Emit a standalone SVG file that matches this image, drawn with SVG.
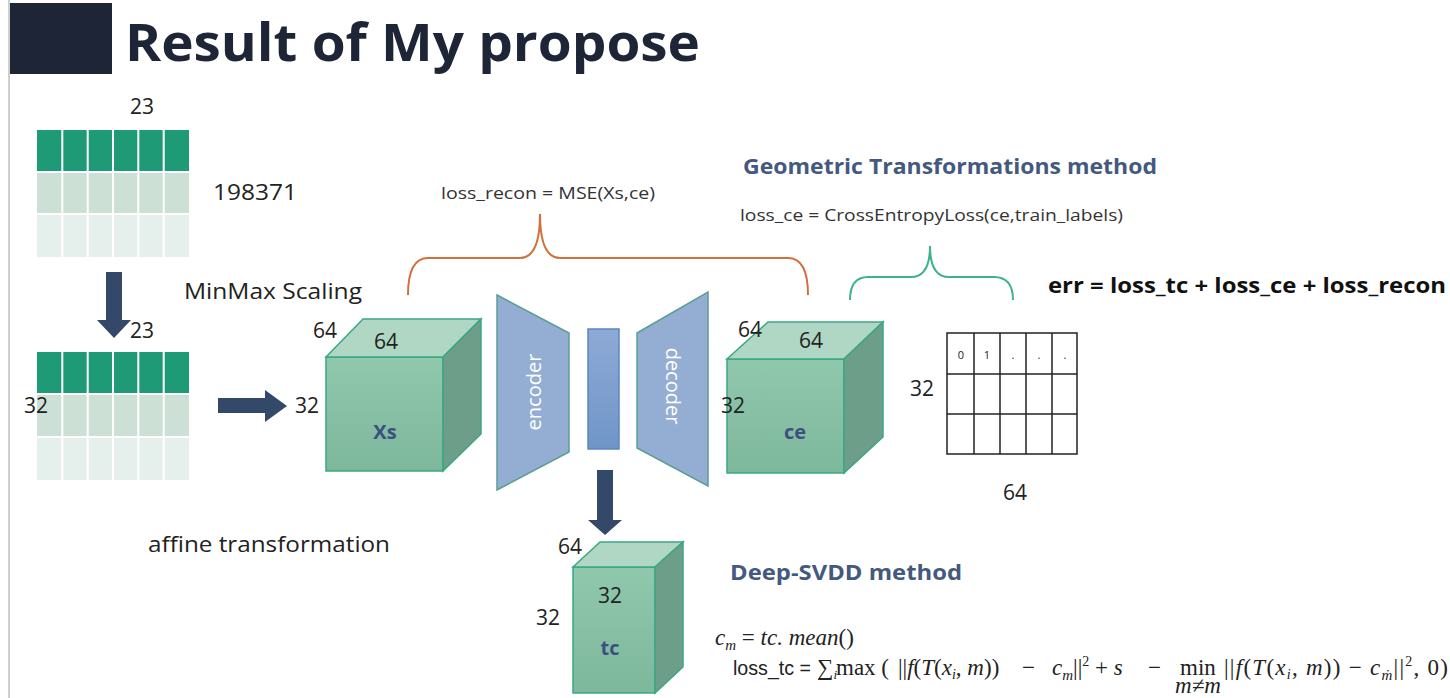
<svg xmlns="http://www.w3.org/2000/svg" width="1450" height="698" viewBox="0 0 1450 698">
<defs>
<style>
.num{font-family:"Open Sans","Noto Sans",sans-serif;font-size:21px;fill:#222}
.lbl{font-family:"Open Sans","Noto Sans",sans-serif;font-size:21px;fill:#222}
.small{font-family:"Liberation Sans Narrow","Open Sans",sans-serif;font-size:16px;fill:#333}
.head{font-family:"Open Sans","Noto Sans",sans-serif;font-size:21px;font-weight:bold;fill:#44597e}
.cubelbl{font-family:"Open Sans","Noto Sans",sans-serif;font-size:20px;font-weight:bold;fill:#3c5080}
.front{fill:url(#gFront);stroke:#3aa882;stroke-width:1.5}
.top{fill:#b0d6c4;stroke:#3aa882;stroke-width:1.5}
.side{fill:#6c9e89;stroke:#3aa882;stroke-width:1.5}
.arrow{fill:#34496a}
.ed{fill:#94add3;stroke:#5a9e94;stroke-width:1.5}
.edt{font-family:"Open Sans","Noto Sans",sans-serif;font-size:20px;fill:#fff}
.math{font-family:"Liberation Serif",serif;font-size:23px;fill:#222}
.it{font-style:italic}
.gridline{stroke:#fff;stroke-width:2}
.tbl{fill:none;stroke:#222;stroke-width:1.5}
</style>
<linearGradient id="gFront" x1="0" y1="0" x2="0" y2="1">
<stop offset="0" stop-color="#90c8ae"/>
<stop offset="1" stop-color="#7db79c"/>
</linearGradient>
<linearGradient id="gBar" x1="0" y1="0" x2="0" y2="1">
<stop offset="0" stop-color="#8eaad6"/>
<stop offset="1" stop-color="#6f95c8"/>
</linearGradient>
</defs>
<rect width="1450" height="698" fill="#fff"/>
<line x1="9" y1="0" x2="9" y2="698" stroke="#cfcfcf" stroke-width="2"/>

<g id="title">
<rect x="10" y="3" width="102" height="71" fill="#1e2537"/>
<text x="125" y="61" font-family="Open Sans, Noto Sans, sans-serif" font-size="52" font-weight="bold" fill="#1e2537" textLength="575" lengthAdjust="spacingAndGlyphs">Result of My propose</text>
</g>

<g id="grid-raw">
<rect x="37" y="130" width="152" height="41" fill="#1f9a77"/>
<rect x="37" y="173" width="152" height="40" fill="#cde0d6"/>
<rect x="37" y="215" width="152" height="42" fill="#e5efeb"/>
<g class="gridline">
<line x1="62.3" y1="130" x2="62.3" y2="257"/><line x1="87.7" y1="130" x2="87.7" y2="257"/><line x1="113" y1="130" x2="113" y2="257"/><line x1="138.3" y1="130" x2="138.3" y2="257"/><line x1="163.7" y1="130" x2="163.7" y2="257"/>
</g>
<text class="num" x="142" y="114" text-anchor="middle">23</text>
<text class="num" x="213" y="200" textLength="84" lengthAdjust="spacingAndGlyphs">198371</text>
</g>

<g id="grid-scaled">
<rect x="37" y="352" width="152" height="41" fill="#1f9a77"/>
<rect x="37" y="395" width="152" height="41" fill="#cde0d6"/>
<rect x="37" y="438" width="152" height="42" fill="#e5efeb"/>
<g class="gridline">
<line x1="62.3" y1="352" x2="62.3" y2="480"/><line x1="87.7" y1="352" x2="87.7" y2="480"/><line x1="113" y1="352" x2="113" y2="480"/><line x1="138.3" y1="352" x2="138.3" y2="480"/><line x1="163.7" y1="352" x2="163.7" y2="480"/>
</g>
<text class="num" x="142" y="338" text-anchor="middle">23</text>
<text class="num" x="24" y="413">32</text>
</g>

<g id="Xs">
<polygon class="front" points="326,357 443,357 443,471 326,471"/>
<polygon class="top" points="326,357 363,319 481,319 443,357"/>
<polygon class="side" points="443,357 481,319 481,434 443,471"/>
<text class="num" x="325" y="338" text-anchor="middle">64</text>
<text class="num" x="386" y="349" text-anchor="middle">64</text>
<text class="num" x="307" y="413" text-anchor="middle">32</text>
<text class="cubelbl" x="385" y="439" text-anchor="middle">Xs</text>
</g>

<g id="encoder">
<polygon class="ed" points="497,295 569,333 569,452 497,490"/>
<text class="edt" transform="translate(541,392) rotate(-90)" text-anchor="middle">encoder</text>
</g>

<g id="latent">
<rect x="588" y="329" width="31" height="120" fill="url(#gBar)" stroke="#5b86c0" stroke-width="1.5"/>
</g>

<g id="decoder">
<polygon class="ed" points="637,333 708,292 708,486 637,448"/>
<text class="edt" transform="translate(666,386) rotate(90)" text-anchor="middle">decoder</text>
</g>

<g id="ce">
<polygon class="front" points="727,359 844,359 844,473 727,473"/>
<polygon class="top" points="727,359 768,322 883,322 844,359"/>
<polygon class="side" points="844,359 883,322 883,437 844,473"/>
<text class="num" x="750" y="337" text-anchor="middle">64</text>
<text class="num" x="811" y="348" text-anchor="middle">64</text>
<text class="num" x="733" y="413" text-anchor="middle">32</text>
<text class="cubelbl" x="795" y="439" text-anchor="middle">ce</text>
</g>

<g id="tc">
<polygon class="front" points="573,567 655,567 655,693 573,693"/>
<polygon class="top" points="573,567 600,542 683,542 655,567"/>
<polygon class="side" points="655,567 683,542 683,667 655,693"/>
<text class="num" x="570" y="554" text-anchor="middle">64</text>
<text class="num" x="610" y="603" text-anchor="middle">32</text>
<text class="num" x="548" y="625" text-anchor="middle">32</text>
<text class="cubelbl" x="610" y="655" text-anchor="middle">tc</text>
</g>

<g id="label-table">
<rect class="tbl" x="947" y="333" width="130" height="121"/>
<g class="tbl">
<line x1="974" y1="333" x2="974" y2="454"/><line x1="1000" y1="333" x2="1000" y2="454"/><line x1="1026" y1="333" x2="1026" y2="454"/><line x1="1052" y1="333" x2="1052" y2="454"/>
<line x1="947" y1="374" x2="1077" y2="374"/><line x1="947" y1="414" x2="1077" y2="414"/>
</g>
<g font-family="Open Sans, sans-serif" font-size="11" fill="#222" text-anchor="middle">
<text x="961" y="359">0</text><text x="987" y="359">1</text><text x="1013" y="359">.</text><text x="1039" y="359">.</text><text x="1065" y="359">.</text>
</g>
<text class="num" x="922" y="396" text-anchor="middle">32</text>
<text class="num" x="1015" y="500" text-anchor="middle">64</text>
</g>

<g id="connectors">
<path class="arrow" d="M106,272 H122 V320 H131 L114,338 L97,320 H106 Z"/>
<path class="arrow" d="M218,398 H265 V390 L287,406 L265,422 V413 H218 Z"/>
<path class="arrow" d="M597,470 H613 V520 H622 L605,535 L588,520 H597 Z"/>
<path d="M408,295 Q408,258 428,258 L520,258 Q540,258 540,214 Q540,258 560,258 L788,258 Q808,258 808,295" fill="none" stroke="#d0703a" stroke-width="2"/>
<path d="M850,300 Q850,277 868,277 L911,277 Q930,277 930,246 Q930,277 949,277 L994,277 Q1013,277 1013,300" fill="none" stroke="#3db38a" stroke-width="2"/>
</g>

<g id="texts">
<text class="lbl" x="184" y="299" textLength="178" lengthAdjust="spacingAndGlyphs">MinMax Scaling</text>
<text class="lbl" x="148" y="552" textLength="242" lengthAdjust="spacingAndGlyphs">affine transformation</text>
<text class="small" x="441" y="199" textLength="214" lengthAdjust="spacingAndGlyphs">loss_recon = MSE(Xs,ce)</text>
<text class="small" x="740" y="221" textLength="383" lengthAdjust="spacingAndGlyphs">loss_ce = CrossEntropyLoss(ce,train_labels)</text>
<text class="head" x="743" y="174" textLength="414" lengthAdjust="spacingAndGlyphs">Geometric Transformations method</text>
<text x="1048" y="293" font-family="Open Sans, Noto Sans, sans-serif" font-size="21" font-weight="bold" fill="#111" textLength="398" lengthAdjust="spacingAndGlyphs">err = loss_tc + loss_ce + loss_recon</text>
<text class="head" x="730" y="580" textLength="232" lengthAdjust="spacingAndGlyphs">Deep-SVDD method</text>
</g>

<g id="formula">
<text class="math" x="715" y="645"><tspan class="it">c</tspan><tspan class="it" font-size="15" dy="5">m</tspan><tspan dy="-5"> = </tspan><tspan class="it">tc. mean</tspan><tspan>()</tspan></text>
<text x="733" y="675" font-family="Liberation Sans Narrow, Liberation Sans, sans-serif" font-size="20" fill="#222" textLength="78" lengthAdjust="spacingAndGlyphs">loss_tc =</text>
<text class="math" y="675"><tspan x="817">∑</tspan><tspan class="it" font-size="13" dy="4">i</tspan><tspan x="836" dy="-4">max (</tspan><tspan x="898">||</tspan><tspan class="it">f</tspan><tspan>(</tspan><tspan class="it">T</tspan><tspan>(</tspan><tspan class="it">x</tspan><tspan class="it" font-size="14" dy="4">i</tspan><tspan dy="-4">, </tspan><tspan class="it">m</tspan><tspan>))</tspan><tspan x="1022">−</tspan><tspan x="1052" class="it">c</tspan><tspan class="it" font-size="15" dy="5">m</tspan><tspan dy="-5">||</tspan><tspan font-size="14" dy="-9">2</tspan><tspan dy="9"> + </tspan><tspan class="it">s</tspan><tspan x="1148">−</tspan><tspan x="1180">min</tspan></text>
<text class="math" x="1224" y="675" textLength="224" lengthAdjust="spacing"><tspan>||</tspan><tspan class="it">f</tspan><tspan>(</tspan><tspan class="it">T</tspan><tspan>(</tspan><tspan class="it">x</tspan><tspan class="it" font-size="14" dy="4">i</tspan><tspan dy="-4">, </tspan><tspan class="it">m</tspan><tspan>)) − </tspan><tspan class="it">c</tspan><tspan class="it" font-size="15" dy="5">ṁ</tspan><tspan dy="-5">||</tspan><tspan font-size="14" dy="-9">2</tspan><tspan dy="9">, 0)</tspan></text>
<text class="math it" x="1198" y="693" font-size="11" text-anchor="middle">m≠m</text>
</g>
</svg>
